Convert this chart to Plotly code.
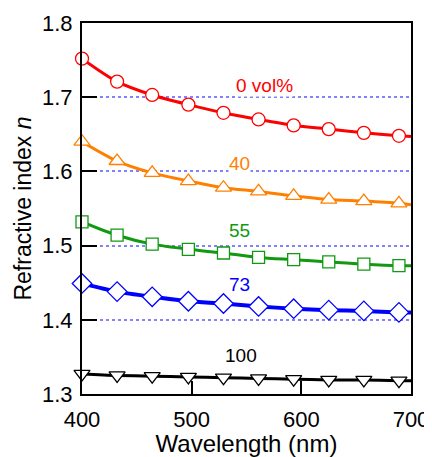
import plotly.graph_objects as go

# Data
wavelength = [400, 432, 464, 497, 529, 561, 593, 625, 657, 689]
curve_end_x = 700

labels = ["0 vol%", "40", "55", "73", "100"]
n_0 = [1.752, 1.721, 1.703, 1.690, 1.679, 1.670, 1.662, 1.657, 1.652, 1.648]
n_40 = [1.640, 1.614, 1.598, 1.587, 1.578, 1.573, 1.567, 1.562, 1.560, 1.557]
n_55 = [1.532, 1.514, 1.502, 1.495, 1.490, 1.484, 1.481, 1.478, 1.475, 1.473]
n_73 = [1.449, 1.438, 1.431, 1.425, 1.422, 1.418, 1.415, 1.413, 1.412, 1.410]
n_100 = [1.327, 1.325, 1.324, 1.323, 1.322, 1.321, 1.320, 1.319, 1.319, 1.318]
curve_end = [1.647, 1.555, 1.473, 1.410, 1.318]

series = [n_0, n_40, n_55, n_73, n_100]
colors = ["#ff0000", "#ff8000", "#119911", "#0000ff", "#000000"]
symbols = ["circle", "triangle-up", "square", "diamond", "triangle-down"]
msizes = [13, 14, 12, 15, 14]
lwidths = [3, 3, 3, 4, 3]
label_pos = [(566, 1.716), (544, 1.611), (544, 1.520), (544, 1.447), (545, 1.352)]

fig = go.Figure()
for vals, end, c, lw in zip(series, curve_end, colors, lwidths):
    fig.add_trace(go.Scatter(
        x=wavelength + [curve_end_x], y=vals + [end], mode="lines",
        line=dict(color=c, width=lw, shape="spline", smoothing=0.8),
        showlegend=False, hoverinfo="skip", cliponaxis=True))
for vals, c, sym, ms in zip(series, colors, symbols, msizes):
    fig.add_trace(go.Scatter(
        x=wavelength, y=vals, mode="markers",
        marker=dict(symbol=sym, size=ms, color="white",
                    line=dict(width=1.3, color=c)),
        showlegend=False, cliponaxis=False))

for lab, (lx, ly), c in zip(labels, label_pos, colors):
    fig.add_annotation(x=lx, y=ly, text=lab, showarrow=False,
                       font=dict(size=19, color=c, family="Liberation Sans, Arial"),
                       xanchor="center", yanchor="middle",
                       bgcolor="white", borderpad=0)

# page body has an 8px margin, so the figure is 8px smaller and margins shifted
fig.update_layout(
    width=424, height=449,
    margin=dict(l=74, r=21, t=15, b=63),
    plot_bgcolor="white", paper_bgcolor="white",
    font=dict(family="Liberation Sans, Arial", size=22, color="black"),
)
fig.update_xaxes(
    range=[400, 700], dtick=100, tick0=400,
    showline=True, linecolor="black", linewidth=2, mirror=True,
    ticks="inside", ticklen=13, tickwidth=2, tickcolor="black",
    showgrid=False, zeroline=False, automargin=False,
    ticklabelstandoff=5,
    title=dict(text="Wavelength (nm)", font=dict(size=24), standoff=7),
)
fig.update_yaxes(
    range=[1.3, 1.8], dtick=0.1, tick0=1.3, tickformat=".1f",
    showline=True, linecolor="black", linewidth=2, mirror=True,
    ticks="inside", ticklen=15, tickwidth=2, tickcolor="black",
    showgrid=True, gridcolor="rgb(130,130,255)", gridwidth=1.5, griddash="dot",
    zeroline=False, ticklabelstandoff=3, automargin=False,
    title=dict(text="Refractive index <i>n</i>", font=dict(size=23), standoff=4),
)

fig.write_html("out.html")
